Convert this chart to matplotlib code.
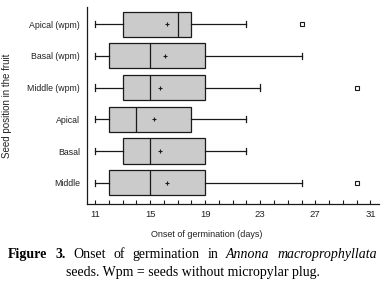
import matplotlib
matplotlib.use("Agg")
import matplotlib.pyplot as plt
from matplotlib.ticker import MultipleLocator, FixedLocator

plt.rcParams["font.family"] = ["Liberation Sans", "DejaVu Sans"]

categories = ["Apical (wpm)", "Basal (wpm)", "Middle (wpm)", "Apical", "Basal", "Middle"]
whislo = [11, 11, 11, 11, 11, 11]
q1 = [13, 12, 13, 12, 13, 12]
med = [17, 15, 15, 14, 15, 15]
q3 = [18, 19, 19, 18, 19, 19]
whishi = [22, 26, 23, 22, 22, 26]
means = [16.2, 16.1, 15.75, 15.3, 15.7, 16.2]
fliers = [[26], [], [30], [], [], [30]]
xticks = [11, 15, 19, 23, 27, 31]

W, H = 385, 286
fig = plt.figure(figsize=(W / 100, H / 100), dpi=100)
ax = fig.add_axes([86.7 / W, 1 - 204 / H, 292 / W, 197 / H])

stats = []
for i, c in enumerate(categories):
    stats.append(dict(label=c, whislo=whislo[i], q1=q1[i], med=med[i], q3=q3[i],
                      whishi=whishi[i], mean=means[i], fliers=fliers[i]))

lc = "#1a1a1a"
lw = 0.9
ax.bxp(stats, positions=list(range(len(categories))), vert=False, widths=0.79,
       patch_artist=True, showmeans=True, capwidths=0.2,
       boxprops=dict(facecolor="#cbcbcb", edgecolor=lc, linewidth=lw),
       medianprops=dict(color=lc, linewidth=lw),
       whiskerprops=dict(color=lc, linewidth=lw),
       capprops=dict(color=lc, linewidth=lw),
       meanprops=dict(marker="+", markersize=3.5, markeredgecolor=lc, markeredgewidth=0.8),
       flierprops=dict(marker="s", markersize=2.8, markerfacecolor="white",
                       markeredgecolor=lc, markeredgewidth=0.8))

ax.set_xlim(10.4, 31.6)
ax.set_ylim(5.67, -0.54)
ax.xaxis.set_major_locator(FixedLocator(xticks))
ax.xaxis.set_minor_locator(MultipleLocator(1))
ax.tick_params(axis="x", which="both", direction="in", length=3.2, width=0.8,
               color=lc, labelsize=6.8, labelcolor="#222222", pad=4)
ax.tick_params(axis="y", length=0, labelsize=6.3, labelcolor="#222222", pad=5)
ax.set_yticks(range(len(categories)))
ax.set_yticklabels(categories)
for side in ["top", "right"]:
    ax.spines[side].set_visible(False)
for side in ["left", "bottom"]:
    ax.spines[side].set_linewidth(0.9)
    ax.spines[side].set_color(lc)

ax.set_xlabel("Onset of germination (days)", fontsize=6.5, color="#222222")
ax.xaxis.set_label_coords(0.412, -0.132)
ax.set_ylabel("Seed position in the fruit", fontsize=7, color="#222222")
ax.yaxis.set_label_coords(-0.255, 0.5)

# Caption (justified first line, centered second line)
serif = "Liberation Serif"
fs = 10
words = [("Figure", "bold", "normal"), ("3.", "bold", "normal"), ("Onset", "normal", "normal"),
         ("of", "normal", "normal"), ("germination", "normal", "normal"), ("in", "normal", "normal"),
         ("Annona", "normal", "italic"), ("macroprophyllata", "normal", "italic")]
fig.canvas.draw()
r = fig.canvas.get_renderer()
x0, x1 = 8, 377
y1 = 1 - 258 / H
arts = []
widths = []
for w, fw, st in words:
    t = fig.text(0, y1, w, fontsize=fs, family=serif, fontweight=fw, fontstyle=st,
                 ha="left", va="baseline", color="black")
    bb = t.get_window_extent(renderer=r)
    arts.append(t)
    widths.append(bb.width)
gap = ((x1 - x0) - sum(widths)) / (len(words) - 1)
x = x0
for t, wd in zip(arts, widths):
    t.set_x(x / W)
    x += wd + gap

fig.text(192.5 / W, 1 - 276 / H, "seeds. Wpm = seeds without micropylar plug.",
         fontsize=fs, family=serif, ha="center", va="baseline", color="black")

fig.savefig("out.png", dpi=100)
